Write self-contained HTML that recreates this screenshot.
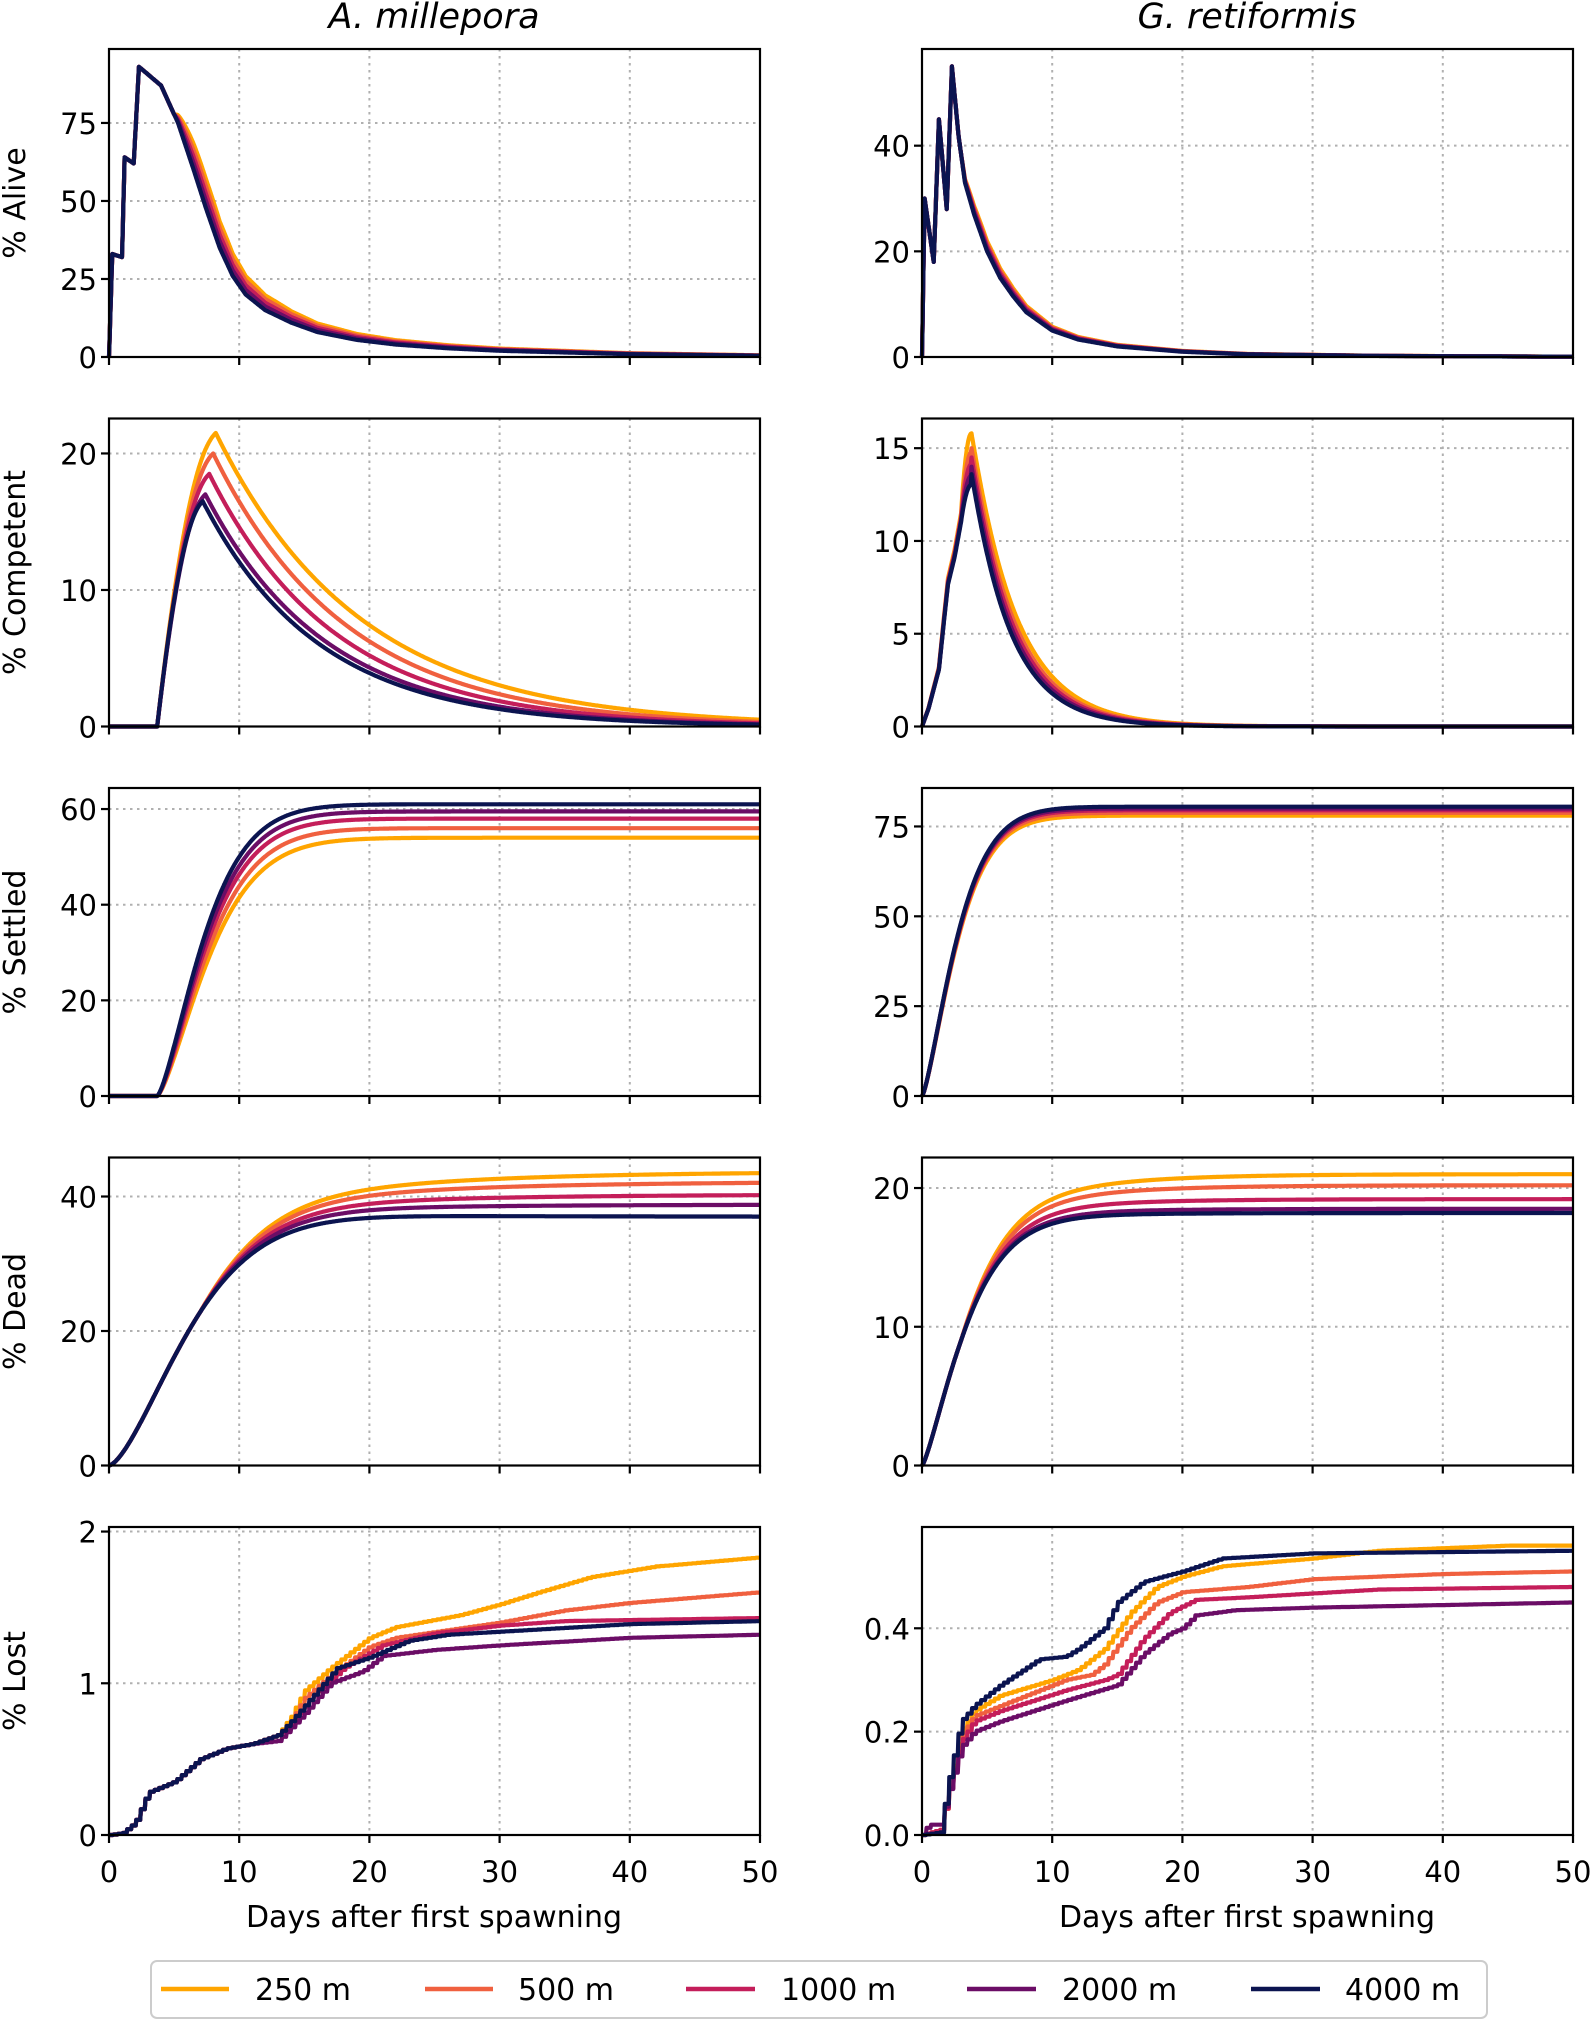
<!DOCTYPE html>
<html><head><meta charset="utf-8">
<style>
html,body{margin:0;padding:0;background:#fff;}
svg{display:block;}
text{font-family:"DejaVu Sans","Liberation Sans",sans-serif;fill:#000;}
</style></head>
<body>
<svg id="s" width="1595" height="2022" viewBox="0 0 1595 2022" xmlns="http://www.w3.org/2000/svg">
<text x="434" y="28" font-size="35" font-style="italic" text-anchor="middle">A. millepora</text>
<text x="1247" y="28" font-size="35" font-style="italic" text-anchor="middle">G. retiformis</text>
<text x="434" y="1927" font-size="30" text-anchor="middle">Days after first spawning</text>
<text x="1247" y="1927" font-size="30" text-anchor="middle">Days after first spawning</text>
<rect x="151" y="1961" width="1336" height="57" rx="6" fill="#fff" stroke="#cccccc" stroke-width="2"/>
<g id="leg"></g>
<g id="plots"></g>
</svg>
<script>
const NS="http://www.w3.org/2000/svg";
const cols=["#FFA500","#F0603F","#C41E5A","#6B0D66","#0B1450"];
const names=["250 m","500 m","1000 m","2000 m","4000 m"];
const legX=[[161,229,255],[425,493,518],[686,755,781],[967,1036,1062],[1251,1320,1345]];
const leg=document.getElementById('leg');
function el(t,a,p){const e=document.createElementNS(NS,t);for(const k in a)e.setAttribute(k,a[k]);(p||document.getElementById('plots')).appendChild(e);return e;}
for(let i=0;i<5;i++){
  el('line',{x1:legX[i][0],x2:legX[i][1],y1:1989,y2:1989,stroke:cols[i],'stroke-width':4.5},leg);
  const t=el('text',{x:legX[i][2],y:2000,'font-size':30},leg);t.textContent=names[i];
}
function interp(pts,t){
  if(t<=pts[0][0])return pts[0][1];
  for(let i=1;i<pts.length;i++){if(t<=pts[i][0]){const a=pts[i-1],b=pts[i];return a[1]+(b[1]-a[1])*(t-a[0])/(b[0]-a[0]);}}
  return pts[pts.length-1][1];
}
function stair(t,k){const q=0.35;return Math.floor(t/q)*q;}
const rows=[49,418.5,788,1157.5,1527];const H=308;
const colX=[[109,760],[922,1573]];
const alivePts=[[0,0],[0.25,33],[1.0,32],[1.2,64],[1.9,62],[2.3,93],[4,87],[5.3,75],[6.5,60],[7.5,47],[8.5,35],[9.5,26],[10.5,20],[12,15],[14,11],[16,8],[19,5.5],[22,4],[26,2.8],[30,2],[40,0.9],[50,0.4]];
const L=[
 {ymax:98.7,ticks:[0,25,50,75],lab:"% Alive",f:(k,t)=>{let v=interp(alivePts,t);if(t>5){const s=(4-k)/4;v*=1+0.35*s*(1-Math.exp(-(t-5)/3));}return v;}},
 {ymax:22.56,ticks:[0,10,20],lab:"% Competent",f:(k,t)=>{const pk=[21.5,20,18.5,17,16.5][k],tp=[8.2,8,7.7,7.4,7.2][k],tau=[11.1,10.3,9.7,9.2,8.9][k];if(t<3.7)return 0;if(t<tp){const g=(t-3.7)/(tp-3.7);return pk*(1-Math.pow(1-g,2.2))*(0.8+0.2*g);}const d=t-tp;return pk*Math.exp(-d/tau);}},
 {ymax:64.4,ticks:[0,20,40,60],lab:"% Settled",f:(k,t)=>{const P=[54,56,58,59.5,61][k],tau=[4.8,4.65,4.5,4.4,4.29][k];if(t<3.7)return 0;return P*(1-Math.exp(-Math.pow((t-3.7)/tau,1.4)));}},
 {ymax:45.8,ticks:[0,20,40],lab:"% Dead",f:(k,t)=>{let v=37.5*(1-Math.exp(-Math.pow(t/7.31,1.52)));const e=[6.2,4.7,2.8,1.3,-0.5][k];if(t>7)v+=e*(1-Math.exp(-(t-7)/13));return v;}},
 {ymax:2.03,ticks:[0,1,2],lab:"% Lost",f:(k,t)=>{
   const base=[[0,0],[1,0.01],[2,0.08],[3,0.28],[5,0.35],[7,0.5],[9,0.57],[11,0.6],[13,0.66],[14,0.75]];
   const tails=[
    [[14,0.78],[15,0.95],[17,1.1],[20,1.3],[22,1.37],[27,1.45],[30,1.52],[33,1.6],[37,1.7],[42,1.77],[50,1.83]],
    [[14,0.75],[15,0.9],[17,1.05],[20,1.24],[22,1.3],[26,1.35],[30,1.4],[35,1.48],[40,1.53],[50,1.6]],
    [[14,0.72],[15.5,0.9],[18,1.1],[21,1.25],[25,1.33],[30,1.38],[35,1.41],[50,1.43]],
    [[13,0.62],[15,0.8],[17,1.0],[19.5,1.08],[21,1.18],[25,1.22],[30,1.25],[40,1.3],[50,1.32]],
    [[14,0.75],[15,0.85],[17.5,1.1],[20,1.17],[23,1.28],[26,1.32],[32,1.35],[40,1.39],[50,1.41]]];
   const p=base.filter(a=>a[0]<tails[k][0][0]).concat(tails[k]);
   return interp(p,stair(t,k));}}
];
const rAlivePts=[[0,0],[0.2,30],[0.9,18],[1.3,45],[1.9,28],[2.3,55],[2.8,42],[3.3,33],[4,27],[5,20],[6,15],[7,11.5],[8,8.5],[10,5],[12,3.3],[15,2],[20,1],[25,0.5],[35,0.2],[50,0.05]];
const R=[
 {ymax:58.3,ticks:[0,20,40],f:(k,t)=>{let v=interp(rAlivePts,t);if(t>3){v*=1+0.15*(4-k)/4*(1-Math.exp(-(t-3)/2));}return v;}},
 {ymax:16.6,ticks:[0,5,10,15],f:(k,t)=>{const pk=[15.8,15,14.5,14,13.6][k],tau=[3.5,3.35,3.25,3.15,3.05][k];const pts=[[0,0],[0.5,1],[1.3,3.2],[1.7,6],[2,8],[2.5,9.5],[3,11.5]];if(t<3.8){let v=interp(pts,Math.min(t,3));if(t>3){const g=(t-3)/0.8;v=11.5+(pk-11.5)*(1-(1-g)*(1-g));}return v*(pk/15.8*0.3+0.7);}return pk*Math.exp(-Math.pow((t-3.8)/tau,1.0)*(1-0.1*Math.exp(-(t-3.8))));}},
 {ymax:85.7,ticks:[0,25,50,75],f:(k,t)=>{const P=[78,78.8,79.5,80,80.5][k];return P*(1-Math.exp(-Math.pow(t/3.2,1.35)));}},
 {ymax:22.2,ticks:[0,10,20],f:(k,t)=>{let v=17.7*(1-Math.exp(-Math.pow(t/3.9,1.3)));const e=[3.3,2.5,1.5,0.8,0.5][k];if(t>3)v+=e*(1-Math.exp(-(t-3)/7));return v;}},
 {ymax:0.596,ticks:[0,0.2,0.4],fmt:v=>v.toFixed(1),f:(k,t)=>{
   const P=[
    [[0,0],[1.4,0.01],[2,0.08],[3,0.2],[4,0.24],[6,0.27],[10,0.3],[12,0.32],[14,0.36],[16,0.43],[18,0.48],[20,0.5],[23,0.52],[30,0.535],[35,0.55],[45,0.56],[50,0.56]],
    [[0,0],[1.4,0.01],[2,0.08],[3,0.19],[4,0.23],[6,0.25],[11,0.3],[13,0.31],[14,0.33],[16,0.4],[18,0.45],[20,0.47],[25,0.48],[30,0.495],[40,0.505],[50,0.51]],
    [[0,0],[1.4,0.01],[2,0.08],[3,0.18],[4,0.22],[6,0.24],[11,0.28],[14,0.3],[15,0.31],[17,0.38],[19,0.43],[21,0.455],[25,0.46],[35,0.475],[50,0.48]],
    [[0,0],[0.5,0.02],[1.4,0.02],[2,0.08],[3,0.17],[4,0.2],[6,0.22],[11,0.26],[15,0.29],[17,0.35],[19,0.39],[20,0.4],[21,0.425],[24,0.435],[30,0.44],[50,0.45]],
    [[0,0],[1.4,0.005],[2,0.1],[3,0.22],[4,0.25],[6,0.29],[9,0.34],[11,0.345],[12,0.36],[14,0.4],[15,0.45],[17,0.49],[20,0.51],[23,0.535],[30,0.545],[50,0.55]]];
   return Math.max(0,interp(P[k],stair(t,k)));}}
];
function panel(ci,ri,cfg){
  const [x0,x1]=colX[ci];const y0=rows[ri],y1=y0+H;
  const X=t=>x0+(x1-x0)*t/50, Y=v=>y1-H*v/cfg.ymax;
  for(let t=10;t<50;t+=10)el('line',{x1:X(t),x2:X(t),y1:y0,y2:y1,stroke:'#b0b0b0','stroke-width':2,'stroke-dasharray':'2.5,4.5'});
  for(const v of cfg.ticks){if(v>0)el('line',{x1:x0,x2:x1,y1:Y(v),y2:Y(v),stroke:'#b0b0b0','stroke-width':2,'stroke-dasharray':'2.5,4.5'});}
  for(let k=0;k<5;k++){
    let d='';for(let i=0;i<=1000;i++){const t=i*0.05;const v=cfg.f(k,t);d+=(i?'L':'M')+X(t).toFixed(1)+','+Y(v).toFixed(1);}
    el('path',{d:d,fill:'none',stroke:cols[k],'stroke-width':4.2,'stroke-linejoin':'round'});
  }
  el('rect',{x:x0,y:y0,width:x1-x0,height:H,fill:'none',stroke:'#000','stroke-width':2.2});
  for(const v of cfg.ticks){
    el('line',{x1:x0-8,x2:x0,y1:Y(v),y2:Y(v),stroke:'#000','stroke-width':2.2});
    const t=el('text',{x:x0-12,y:Y(v)+11,'font-size':29,'text-anchor':'end'});t.textContent=cfg.fmt?cfg.fmt(v):v;
  }
  for(let t=0;t<=50;t+=10){
    el('line',{x1:X(t),x2:X(t),y1:y1,y2:y1+8,stroke:'#000','stroke-width':2.2});
    if(ri==4){const tx=el('text',{x:X(t),y:y1+47,'font-size':29,'text-anchor':'middle'});tx.textContent=t;}
  }
  if(cfg.lab){const cy=(y0+y1)/2;const tx=el('text',{x:0,y:0,'font-size':30,'text-anchor':'middle',transform:`translate(25,${cy}) rotate(-90)`});tx.textContent=cfg.lab;}
}
L.forEach((c,i)=>panel(0,i,c));
R.forEach((c,i)=>panel(1,i,c));
</script>
</body></html>
